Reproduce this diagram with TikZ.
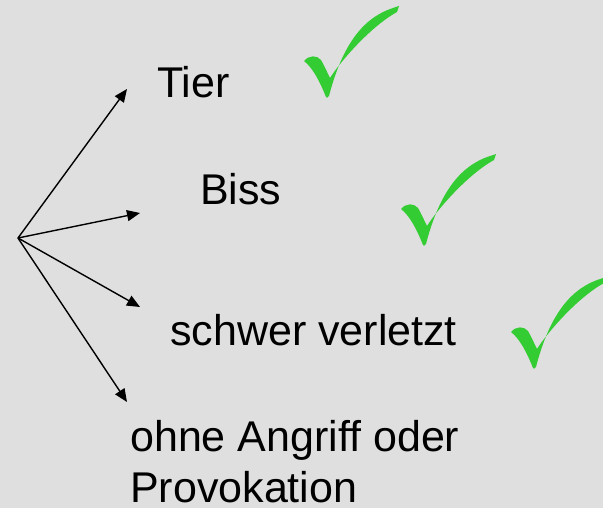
\documentclass[tikz,border=0pt]{standalone}
\usepackage{fontspec}
\setmainfont{Liberation Sans}
\usetikzlibrary{arrows.meta}
\definecolor{bg}{HTML}{DFDFDF}
\definecolor{checkgreen}{HTML}{33CC33}
\tikzset{
  label/.style={anchor=base west, inner sep=0pt, font=\fontsize{43}{50.6}\selectfont},
  arrowline/.style={line width=1.4pt, -{Triangle[length=13pt,width=11pt]}},
  checkmark/.pic={
    \fill[checkgreen] (1,0) .. controls (-5,-15) and (-12,-29) .. (-21,-36)
      .. controls (-16,-42) and (-8,-42) .. (-4,-37)
      .. controls (-1,-32) and (2,-25) .. (5,-19)
      .. controls (15,-35) and (45,-70) .. (72,-85)
      -- (74,-91) -- (68,-89)
      .. controls (40,-80) and (18,-55) .. (4,-1)
      .. controls (3,1) and (1,1) .. (1,0) -- cycle;
  }
}
\begin{document}
\begin{tikzpicture}[x=1pt,y=-1pt]
\fill[bg] (0,0) rectangle (603,508);
\useasboundingbox (0,0) rectangle (603,508);
\coordinate (o) at (18,238);
\coordinate (t1) at (127,89);
\coordinate (t2) at (140,213);
\coordinate (t3) at (140,307);
\coordinate (t4) at (127,402);
\draw[arrowline] (o) -- (t1);
\draw[arrowline] (o) -- (t2);
\draw[arrowline] (o) -- (t3);
\draw[arrowline] (o) -- (t4);
\node[label] (tier) at (157,98) {Tier};
\node[label] (biss) at (200,205) {Biss};
\node[label] (schwer) at (170,345) {schwer verletzt};
\node[label, align=left] (ohne) at (130,502) {ohne Angriff oder\\Provokation};
\pic at (325,97) {checkmark};
\pic at (422,245) {checkmark};
\pic at (532,368) {checkmark};
\end{tikzpicture}
\end{document}
